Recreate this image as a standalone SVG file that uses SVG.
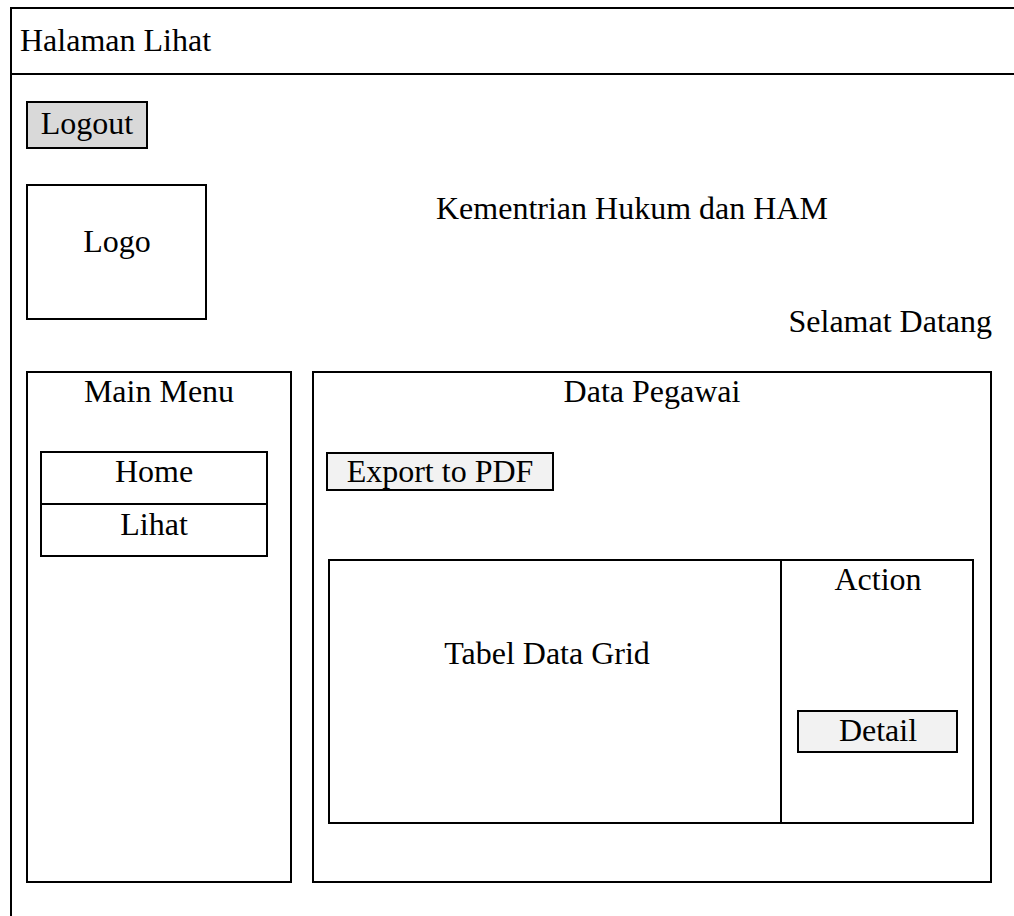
<svg xmlns="http://www.w3.org/2000/svg" width="1014" height="916" viewBox="0 0 1014 916">
  <style>
    .box { fill: #ffffff; stroke: #000000; stroke-width: 2; }
    .btn { stroke: #000000; stroke-width: 2; }
    .line { stroke: #000000; stroke-width: 2; fill: none; }
    text { font-family: "Liberation Serif", "Times New Roman", serif; font-size: 32px; fill: #000000; }
    .c { text-anchor: middle; }
  </style>
  <rect width="1014" height="916" fill="#ffffff"/>

  <!-- page frame with title bar -->
  <g id="frame">
    <rect class="box" x="11" y="8" width="1020" height="930"/>
    <line class="line" x1="11" y1="74" x2="1014" y2="74"/>
    <text x="20" y="51">Halaman Lihat</text>
  </g>

  <g id="logout">
    <rect class="btn" x="27" y="102" width="120" height="46" fill="#d9d9d9"/>
    <text class="c" x="87" y="134">Logout</text>
  </g>

  <g id="logo">
    <rect class="box" x="27" y="185" width="179" height="134"/>
    <text class="c" x="117" y="252">Logo</text>
  </g>

  <g id="title">
    <text x="436" y="219">Kementrian Hukum dan HAM</text>
  </g>

  <g id="welcome">
    <text x="992" y="332" text-anchor="end">Selamat Datang</text>
  </g>

  <!-- navigation panel -->
  <g id="main-menu">
    <rect class="box" x="27" y="372" width="264" height="510"/>
    <text class="c" x="159" y="402">Main Menu</text>
  </g>

  <g id="menu-items">
    <rect class="box" x="41" y="452" width="226" height="104"/>
    <line class="line" x1="41" y1="504" x2="267" y2="504"/>
    <text class="c" x="154" y="482">Home</text>
    <text class="c" x="154" y="535">Lihat</text>
  </g>

  <!-- content panel -->
  <g id="data-pegawai">
    <rect class="box" x="313" y="372" width="678" height="510"/>
    <text class="c" x="652" y="402">Data Pegawai</text>
  </g>

  <g id="export-pdf">
    <rect class="btn" x="327" y="453" width="226" height="37" fill="#f2f2f2"/>
    <text class="c" x="440" y="482">Export to PDF</text>
  </g>

  <g id="data-grid">
    <rect class="box" x="329" y="560" width="644" height="263"/>
    <line class="line" x1="781" y1="560" x2="781" y2="823"/>
    <text class="c" x="547" y="664">Tabel Data Grid</text>
    <text class="c" x="878" y="590">Action</text>
  </g>

  <g id="detail">
    <rect class="btn" x="798" y="711" width="159" height="41" fill="#f2f2f2"/>
    <text class="c" x="878" y="741">Detail</text>
  </g>

  <g id="connectors"></g>
</svg>
